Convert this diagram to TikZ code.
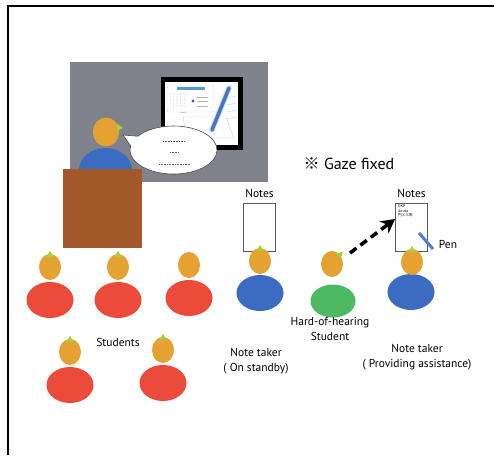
\documentclass[tikz,border=0pt]{standalone}
\usepackage{fontspec}
\setmainfont{PT Sans}
\newfontfamily\cjk{Noto Sans CJK JP}
\usetikzlibrary{arrows.meta,positioning,calc,shapes.geometric}
\definecolor{board}{HTML}{7F828A}
\definecolor{skin}{HTML}{E5A233}
\definecolor{nosegreen}{HTML}{A6CF3E}
\definecolor{stured}{HTML}{EC4A3B}
\definecolor{takerblue}{HTML}{3C6CC2}
\definecolor{hohgreen}{HTML}{4DBA63}
\definecolor{podium}{HTML}{A2582B}
\definecolor{penblue}{HTML}{5B7BD3}
% small green cone on top of a head
\newcommand{\headnose}[1]{\fill[nosegreen] ($(#1.north)+(-3.5,3)$) -- ($(#1.north)+(3.5,3)$) -- ($(#1.north)+(0,-3)$) -- cycle;}

\begin{document}
\begin{tikzpicture}[x=1pt,y=-1pt,
  >=Stealth,
  every node/.style={font=\fontsize{11.5}{14.5}\selectfont},
  head/.style={ellipse, fill=skin, inner sep=0pt, minimum width=22pt, minimum height=26pt},
  torso/.style={ellipse, inner sep=0pt, minimum width=47pt, minimum height=36pt},
  notepad/.style={draw=black!65, fill=white, line width=0.8pt, minimum width=32pt, minimum height=48pt, inner sep=0pt},
  lbl/.style={align=center, inner sep=0pt},
  gaze/.style={line width=3.5pt, dash pattern=on 8pt off 5pt, -{Stealth[length=14pt,width=15pt]}}
]
\useasboundingbox (0,0) rectangle (494,455);
\draw[line width=2pt] (8,455) -- (8,6) -- (494,6);

% lecture board and tablet on screen
\fill[board] (70,62) rectangle (268,182);
\fill[black] (161,77) rectangle (243,150);
\fill[white] (165,82) rectangle (238,145);
\draw[gray!35, rounded corners=2pt] (167,85) rectangle (214,112);
\fill[cyan!60!blue!70] (177,87) rectangle (205,90);
\foreach \i in {0,...,4}
  \foreach \j in {0,...,4}
    \fill[gray!70] (170+3.5*\i,94+3*\j) circle (0.5);
\fill[blue!70] (193,101) circle (1.6);
\foreach \yy in {97,101.5,106} \draw[gray!60, line width=0.4pt] (197,\yy) -- (208,\yy);
\draw[red!60, line width=0.4pt] (180,113) -- (186,112);
\draw[gray!40] (183,117) -- (226,117) -- (234,138) -- (187,138) -- cycle;
\draw[cyan!30, line width=5.5pt, line cap=round] (229,88) -- (212,130);
\draw[penblue!90!black, line width=3.5pt, line cap=round] (229,88) -- (212,130);
\foreach \yy in {98,105,112,119} \draw[cyan!40, line width=0.4pt] (227,\yy) -- (236,\yy-2);

% lecturer with speech bubble
\coordinate (bc) at (173.5,150);
\coordinate (tailtip) at (123,135);
\draw[black!70, fill=white, line width=0.6pt] (tailtip) -- ($(bc)+(215:43.5 and 24)$)
  arc[start angle=215, end angle=550, x radius=43.5, y radius=24] -- cycle;
\draw[gray!70!black, line width=1pt, dash pattern=on 1pt off 0.6pt] (163,141) -- (185,141);
\draw[gray!70!black, line width=1pt, dash pattern=on 1pt off 0.6pt] (170,152) -- (179,152);
\draw[gray!70!black, line width=1pt, dash pattern=on 1pt off 0.6pt] (159,164) -- (190,164);
\node[torso, fill=takerblue, minimum width=53pt, minimum height=44pt] (lectb) at (105.5,170) {};
\node[head, minimum width=26pt, minimum height=29pt] (lecth) at (106,132) {};
\fill[nosegreen] ($(lecth.east)+(4,-4)$) -- ($(lecth.east)+(-2,-8)$) -- ($(lecth.east)+(-2,-1)$) -- cycle;
\fill[podium] (63,169) rectangle (142,248);

\node (gazefix) at (349,164) {\fontsize{16}{19}\selectfont{\cjk ※} Gaze fixed};

% students
\foreach \x/\y/\n in {50/300/1, 118/300/2, 189/298/3, 70/385/4, 163/383/5} {
  \node[torso, fill=stured] (stu\n) at (\x,\y) {};
  \node[head] (stuh\n) at (\x,\y-33) {};
}
\headnose{stuh1} \headnose{stuh2} \headnose{stuh4} \headnose{stuh5}
\node[lbl] (stulbl) at (118,342) {Students};

% note taker on standby
\node[notepad] (notes1) at (259.5,227) {};
\node[lbl] (notes1lbl) at (259.5,193) {Notes};
\node[torso, fill=takerblue] (take1) at (260,293) {};
\node[head] (takeh1) at (260,261) {};
\headnose{takeh1}
\node[lbl] (take1lbl) at (256,361) {Note taker\\( On standby)};

% hard-of-hearing student
\node[torso, fill=hohgreen, minimum width=45pt, minimum height=33pt] (hoh) at (333,301) {};
\node[head] (hohh) at (332,264) {};
\fill[nosegreen] ($(hohh.north east)+(3,-3)$) -- ($(hohh.north east)+(1,4)$) -- ($(hohh.north east)+(-4,-1)$) -- cycle;
\node[lbl] (hohlbl) at (330,329) {Hard-of-hearing\\Student};

% note taker providing assistance
\node[notepad] (notes2) at (411.5,227) {};
\node[lbl] (notes2lbl) at (411.5,193) {Notes};
\node[lbl, align=left, font=\cjk\fontsize{3.6}{4.2}\selectfont, anchor=north west] (memo) at (398,205) {DKP\\Aouta\\円と三角};
\node[torso, fill=takerblue] (take2) at (411,292) {};
\node[head] (takeh2) at (412,262) {};
\headnose{takeh2}
\coordinate (pentop) at (419,233);
\coordinate (pentip) at (433,249);
\draw[penblue, line width=3pt] (pentop) -- (pentip);
\node[lbl] (penlbl) at (448,244) {Pen};
\node[lbl] (take2lbl) at (417,357) {Note taker\\( Providing assistance)};

% gaze towards the notes
\coordinate (gazefrom) at (350,253);
\draw[gaze] (gazefrom) -- (notes2.west |- 0,219);
\end{tikzpicture}
\end{document}
